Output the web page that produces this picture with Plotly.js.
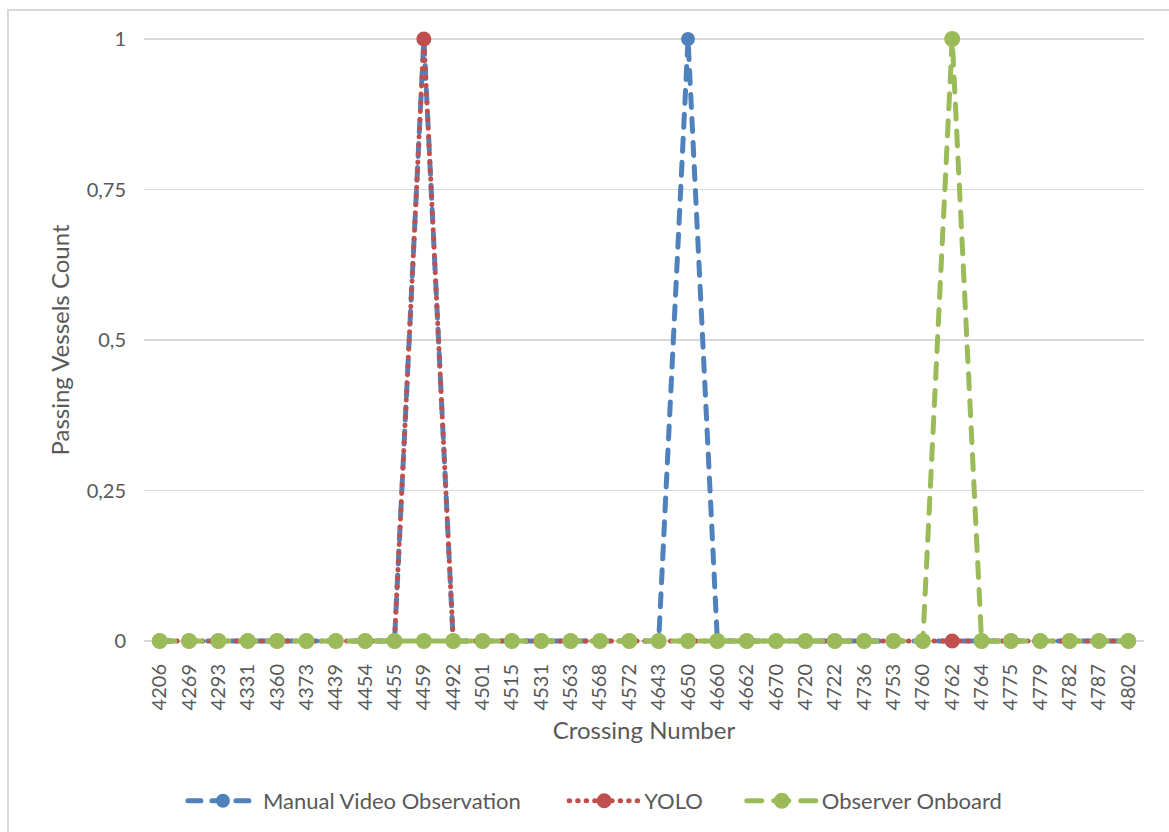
<!DOCTYPE html>
<html>
<head>
<meta charset="utf-8">
<script src="https://cdn.plot.ly/plotly-3.0.1.min.js"></script>
<style>
  html, body { margin: 0; padding: 0; background: #ffffff; }
  #chart { position: absolute; left: 0; top: 0; width: 1169px; height: 832px; }
  #frame { position: absolute; left: 7px; top: 9px; width: 1200px; height: 900px;
           border-left: 2px solid #d9d9d9; border-top: 2px solid #d9d9d9; pointer-events: none; }
  #chart path { stroke-linecap: round; }
</style>
</head>
<body>
<div id="chart"></div>
<div id="frame"></div>
<script>
// Crossing numbers along the x axis
const crossings = ['4206','4269','4293','4331','4360','4373','4439','4454','4455','4459',
  '4492','4501','4515','4531','4563','4568','4572','4643','4650','4660',
  '4662','4670','4720','4722','4736','4753','4760','4762','4764','4775',
  '4779','4782','4787','4802'];

// Passing vessel counts per crossing, one array per counting method
const manualVideo = [0,0,0,0,0,0,0,0,0,1, 0,0,0,0,0,0,0,0,1,0, 0,0,0,0,0,0,0,0,0,0, 0,0,0,0];
const yolo        = [0,0,0,0,0,0,0,0,0,1, 0,0,0,0,0,0,0,0,0,0, 0,0,0,0,0,0,0,0,0,0, 0,0,0,0];
const onboard     = [0,0,0,0,0,0,0,0,0,0, 0,0,0,0,0,0,0,0,0,0, 0,0,0,0,0,0,0,1,0,0, 0,0,0,0];

const yTicks = [0, 0.25, 0.5, 0.75, 1];
const yTickText = ['0', '0,25', '0,5', '0,75', '1'];

const FONT = 'Lato, "Open Sans", sans-serif';
const TXT = '#595959';

// a few pixels of headroom above 1 and below 0 so the thick lines there are not clipped
const PLOT_PX = 602, PAD_PX = 5;
const pad = PAD_PX / PLOT_PX;

const traces = [
  {
    name: 'Manual Video Observation', x: crossings, y: manualVideo, legend: 'legend',
    type: 'scatter', mode: 'lines+markers', cliponaxis: false,
    line: { color: '#4F81BD', width: 5, dash: '13px,11px' },
    marker: { color: '#4F81BD', size: 14 }
  },
  {
    name: 'YOLO', x: crossings, y: yolo, legend: 'legend2',
    type: 'scatter', mode: 'lines+markers', cliponaxis: false,
    line: { color: '#C0504D', width: 5, dash: '0.5px,8px' },
    marker: { color: '#C0504D', size: 15 }
  },
  {
    name: 'Observer Onboard', x: crossings, y: onboard, legend: 'legend3',
    type: 'scatter', mode: 'lines+markers', cliponaxis: false,
    line: { color: '#9BBB59', width: 5, dash: '15px,12px' },
    marker: { color: '#9BBB59', size: 16 }
  }
];

function legendAt(x) {
  return {
    orientation: 'h', x: x, xanchor: 'left', y: -0.2533, yanchor: 'middle',
    font: { family: FONT, size: 22, color: TXT }, itemwidth: 70,
    bgcolor: 'rgba(0,0,0,0)'
  };
}

const layout = {
  width: 1169, height: 832,
  margin: { l: 145, r: 26, t: 39 - PAD_PX, b: 191 - PAD_PX, autoexpand: false },
  paper_bgcolor: '#ffffff', plot_bgcolor: '#ffffff',
  font: { family: FONT, color: TXT, size: 20 },
  showlegend: true,
  legend: legendAt(0.038),
  legend2: legendAt(0.420),
  legend3: legendAt(0.598),
  xaxis: {
    type: 'category', range: [-0.5, crossings.length - 0.5], automargin: false,
    tickangle: -90, showgrid: false, zeroline: false, showline: false,
    ticks: '', ticklabelstandoff: 13, tickfont: { family: FONT, size: 20, color: TXT },
    title: { text: 'Crossing Number', font: { family: FONT, size: 24, color: TXT }, standoff: 12 }
  },
  yaxis: {
    range: [-pad, 1 + pad], tickvals: yTicks, ticktext: yTickText, automargin: false,
    showgrid: true, gridcolor: '#d9d9d9', gridwidth: 1.5,
    zeroline: false, showline: false, ticks: '', ticklabelstandoff: 18,
    tickfont: { family: FONT, size: 20, color: TXT },
    title: { text: 'Passing Vessels Count', font: { family: FONT, size: 24, color: TXT }, standoff: 10 }
  }
};

Plotly.newPlot('chart', traces, layout, { displayModeBar: false, staticPlot: true });
</script>
</body>
</html>
